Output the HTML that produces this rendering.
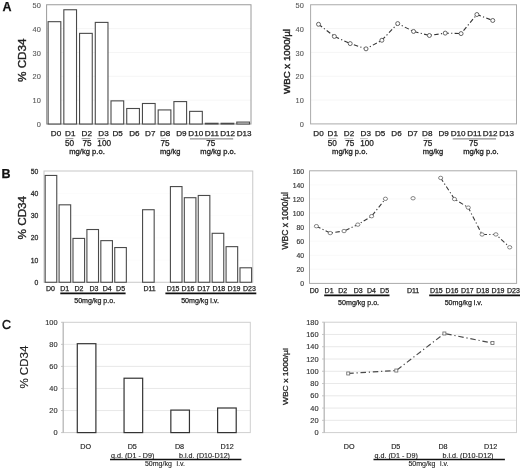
<!DOCTYPE html><html><head><meta charset="utf-8"><style>html,body{margin:0;padding:0;background:#fff;width:520px;height:472px;overflow:hidden}svg{display:block;font-family:"Liberation Sans",sans-serif;will-change:transform}</style></head><body>
<svg width="520" height="472" viewBox="0 0 520 472">
<rect width="520" height="472" fill="#fff"/>
<text x="2.50" y="11.20" font-size="12.5" fill="#111" stroke="#111" stroke-width="0.25" text-anchor="start" font-weight="bold" >A</text>
<line x1="46.60" y1="100.15" x2="251.00" y2="100.15" stroke="#f3f3f3" stroke-width="0.8" />
<line x1="46.60" y1="76.30" x2="251.00" y2="76.30" stroke="#f3f3f3" stroke-width="0.8" />
<line x1="46.60" y1="52.45" x2="251.00" y2="52.45" stroke="#f3f3f3" stroke-width="0.8" />
<line x1="46.60" y1="28.60" x2="251.00" y2="28.60" stroke="#f3f3f3" stroke-width="0.8" />
<rect x="46.60" y="4.75" width="204.40" height="119.25" fill="none" stroke="#9a9a9a" stroke-width="1"/>
<text x="40.80" y="127.10" font-size="7.4" fill="#5a5a5a" stroke="#5a5a5a" stroke-width="0.12" text-anchor="end" font-weight="normal" >0</text>
<text x="40.80" y="103.25" font-size="7.4" fill="#5a5a5a" stroke="#5a5a5a" stroke-width="0.12" text-anchor="end" font-weight="normal" >10</text>
<text x="40.80" y="79.40" font-size="7.4" fill="#5a5a5a" stroke="#5a5a5a" stroke-width="0.12" text-anchor="end" font-weight="normal" >20</text>
<text x="40.80" y="55.55" font-size="7.4" fill="#5a5a5a" stroke="#5a5a5a" stroke-width="0.12" text-anchor="end" font-weight="normal" >30</text>
<text x="40.80" y="31.70" font-size="7.4" fill="#5a5a5a" stroke="#5a5a5a" stroke-width="0.12" text-anchor="end" font-weight="normal" >40</text>
<text x="40.80" y="7.85" font-size="7.4" fill="#5a5a5a" stroke="#5a5a5a" stroke-width="0.12" text-anchor="end" font-weight="normal" >50</text>
<rect x="48.11" y="21.68" width="12.70" height="102.32" fill="#fff" stroke="#4a4a4a" stroke-width="1.1"/>
<rect x="63.83" y="9.76" width="12.70" height="114.24" fill="#fff" stroke="#4a4a4a" stroke-width="1.1"/>
<rect x="79.56" y="33.37" width="12.70" height="90.63" fill="#fff" stroke="#4a4a4a" stroke-width="1.1"/>
<rect x="95.28" y="22.40" width="12.70" height="101.60" fill="#fff" stroke="#4a4a4a" stroke-width="1.1"/>
<rect x="111.00" y="100.87" width="12.70" height="23.13" fill="#fff" stroke="#4a4a4a" stroke-width="1.1"/>
<rect x="126.73" y="108.50" width="12.70" height="15.50" fill="#fff" stroke="#4a4a4a" stroke-width="1.1"/>
<rect x="142.45" y="103.49" width="12.70" height="20.51" fill="#fff" stroke="#4a4a4a" stroke-width="1.1"/>
<rect x="158.17" y="109.93" width="12.70" height="14.07" fill="#fff" stroke="#4a4a4a" stroke-width="1.1"/>
<rect x="173.90" y="101.58" width="12.70" height="22.42" fill="#fff" stroke="#4a4a4a" stroke-width="1.1"/>
<rect x="189.62" y="111.36" width="12.70" height="12.64" fill="#fff" stroke="#4a4a4a" stroke-width="1.1"/>
<rect x="205.34" y="123.28" width="12.70" height="0.72" fill="#fff" stroke="#4a4a4a" stroke-width="1.1"/>
<rect x="221.07" y="123.28" width="12.70" height="0.72" fill="#fff" stroke="#4a4a4a" stroke-width="1.1"/>
<rect x="236.79" y="122.09" width="12.70" height="1.91" fill="#fff" stroke="#4a4a4a" stroke-width="1.1"/>
<text x="-21.75" y="0" font-size="10.6" fill="#222" stroke="#222" stroke-width="0.35" text-anchor="start" font-weight="normal" transform="translate(25.67,60.20) rotate(-90)" textLength="43.5" lengthAdjust="spacingAndGlyphs">% CD34</text>
<text x="56.00" y="135.60" font-size="8.1" fill="#222" stroke="#222" stroke-width="0.25" text-anchor="middle" font-weight="normal" >D0</text>
<text x="70.30" y="135.60" font-size="8.1" fill="#222" stroke="#222" stroke-width="0.25" text-anchor="middle" font-weight="normal" >D1</text>
<text x="86.80" y="135.60" font-size="8.1" fill="#222" stroke="#222" stroke-width="0.25" text-anchor="middle" font-weight="normal" >D2</text>
<text x="103.50" y="135.60" font-size="8.1" fill="#222" stroke="#222" stroke-width="0.25" text-anchor="middle" font-weight="normal" >D3</text>
<text x="117.60" y="135.60" font-size="8.1" fill="#222" stroke="#222" stroke-width="0.25" text-anchor="middle" font-weight="normal" >D5</text>
<text x="134.40" y="135.60" font-size="8.1" fill="#222" stroke="#222" stroke-width="0.25" text-anchor="middle" font-weight="normal" >D6</text>
<text x="150.30" y="135.60" font-size="8.1" fill="#222" stroke="#222" stroke-width="0.25" text-anchor="middle" font-weight="normal" >D7</text>
<text x="165.20" y="135.60" font-size="8.1" fill="#222" stroke="#222" stroke-width="0.25" text-anchor="middle" font-weight="normal" >D8</text>
<text x="181.40" y="135.60" font-size="8.1" fill="#222" stroke="#222" stroke-width="0.25" text-anchor="middle" font-weight="normal" >D9</text>
<text x="195.80" y="135.60" font-size="8.1" fill="#222" stroke="#222" stroke-width="0.25" text-anchor="middle" font-weight="normal" >D10</text>
<text x="211.80" y="135.60" font-size="8.1" fill="#222" stroke="#222" stroke-width="0.25" text-anchor="middle" font-weight="normal" >D11</text>
<text x="227.70" y="135.60" font-size="8.1" fill="#222" stroke="#222" stroke-width="0.25" text-anchor="middle" font-weight="normal" >D12</text>
<text x="244.20" y="135.60" font-size="8.1" fill="#222" stroke="#222" stroke-width="0.25" text-anchor="middle" font-weight="normal" >D13</text>
<text x="69.50" y="145.70" font-size="8.2" fill="#222" stroke="#222" stroke-width="0.25" text-anchor="middle" font-weight="normal" >50</text>
<line x1="65.60" y1="138.60" x2="73.40" y2="138.60" stroke="#999" stroke-width="1.1" />
<text x="87.00" y="145.70" font-size="8.2" fill="#222" stroke="#222" stroke-width="0.25" text-anchor="middle" font-weight="normal" >75</text>
<line x1="81.60" y1="138.60" x2="90.20" y2="138.60" stroke="#999" stroke-width="1.1" />
<text x="104.20" y="145.70" font-size="8.2" fill="#222" stroke="#222" stroke-width="0.25" text-anchor="middle" font-weight="normal" >100</text>
<line x1="97.20" y1="138.60" x2="105.00" y2="138.60" stroke="#999" stroke-width="1.1" />
<text x="165.00" y="145.70" font-size="8.2" fill="#222" stroke="#222" stroke-width="0.25" text-anchor="middle" font-weight="normal" >75</text>
<line x1="161.00" y1="138.40" x2="166.00" y2="138.40" stroke="#ccc" stroke-width="0.8" />
<text x="210.80" y="145.70" font-size="8.2" fill="#222" stroke="#222" stroke-width="0.25" text-anchor="middle" font-weight="normal" >75</text>
<line x1="189.90" y1="138.90" x2="233.20" y2="138.90" stroke="#777" stroke-width="1.0" />
<text x="87.00" y="153.50" font-size="7.4" fill="#222" stroke="#222" stroke-width="0.3" text-anchor="middle" font-weight="normal"  textLength="35.5" lengthAdjust="spacingAndGlyphs">mg/kg p.o.</text>
<text x="170.20" y="153.50" font-size="7.4" fill="#222" stroke="#222" stroke-width="0.3" text-anchor="middle" font-weight="normal"  textLength="20.5" lengthAdjust="spacingAndGlyphs">mg/kg</text>
<text x="218.10" y="153.50" font-size="7.4" fill="#222" stroke="#222" stroke-width="0.3" text-anchor="middle" font-weight="normal"  textLength="35.5" lengthAdjust="spacingAndGlyphs">mg/kg p.o.</text>
<line x1="310.60" y1="100.07" x2="516.50" y2="100.07" stroke="#f3f3f3" stroke-width="0.8" />
<line x1="310.60" y1="76.24" x2="516.50" y2="76.24" stroke="#f3f3f3" stroke-width="0.8" />
<line x1="310.60" y1="52.41" x2="516.50" y2="52.41" stroke="#f3f3f3" stroke-width="0.8" />
<line x1="310.60" y1="28.58" x2="516.50" y2="28.58" stroke="#f3f3f3" stroke-width="0.8" />
<rect x="310.60" y="4.75" width="205.90" height="119.15" fill="none" stroke="#aaa" stroke-width="1"/>
<text x="303.80" y="127.00" font-size="7.4" fill="#5a5a5a" stroke="#5a5a5a" stroke-width="0.12" text-anchor="end" font-weight="normal" >0</text>
<text x="303.80" y="103.17" font-size="7.4" fill="#5a5a5a" stroke="#5a5a5a" stroke-width="0.12" text-anchor="end" font-weight="normal" >10</text>
<text x="303.80" y="79.34" font-size="7.4" fill="#5a5a5a" stroke="#5a5a5a" stroke-width="0.12" text-anchor="end" font-weight="normal" >20</text>
<text x="303.80" y="55.51" font-size="7.4" fill="#5a5a5a" stroke="#5a5a5a" stroke-width="0.12" text-anchor="end" font-weight="normal" >30</text>
<text x="303.80" y="31.68" font-size="7.4" fill="#5a5a5a" stroke="#5a5a5a" stroke-width="0.12" text-anchor="end" font-weight="normal" >40</text>
<text x="303.80" y="7.85" font-size="7.4" fill="#5a5a5a" stroke="#5a5a5a" stroke-width="0.12" text-anchor="end" font-weight="normal" >50</text>
<polyline points="318.52,24.29 334.36,36.44 350.20,43.59 366.03,48.84 381.87,40.26 397.71,23.58 413.55,31.44 429.39,35.49 445.23,33.11 461.07,33.58 476.90,14.52 492.74,20.48" fill="none" stroke="#333" stroke-width="1.1" stroke-dasharray="4.5,2.3,1.2,2.3"/>
<ellipse cx="318.52" cy="24.29" rx="2.0" ry="2.0" fill="#fff" stroke="#555" stroke-width="0.9"/>
<ellipse cx="334.36" cy="36.44" rx="2.0" ry="2.0" fill="#fff" stroke="#555" stroke-width="0.9"/>
<ellipse cx="350.20" cy="43.59" rx="2.0" ry="2.0" fill="#fff" stroke="#555" stroke-width="0.9"/>
<ellipse cx="366.03" cy="48.84" rx="2.0" ry="2.0" fill="#fff" stroke="#555" stroke-width="0.9"/>
<ellipse cx="381.87" cy="40.26" rx="2.0" ry="2.0" fill="#fff" stroke="#555" stroke-width="0.9"/>
<ellipse cx="397.71" cy="23.58" rx="2.0" ry="2.0" fill="#fff" stroke="#555" stroke-width="0.9"/>
<ellipse cx="413.55" cy="31.44" rx="2.0" ry="2.0" fill="#fff" stroke="#555" stroke-width="0.9"/>
<ellipse cx="429.39" cy="35.49" rx="2.0" ry="2.0" fill="#fff" stroke="#555" stroke-width="0.9"/>
<ellipse cx="445.23" cy="33.11" rx="2.0" ry="2.0" fill="#fff" stroke="#555" stroke-width="0.9"/>
<ellipse cx="461.07" cy="33.58" rx="2.0" ry="2.0" fill="#fff" stroke="#555" stroke-width="0.9"/>
<ellipse cx="476.90" cy="14.52" rx="2.0" ry="2.0" fill="#fff" stroke="#555" stroke-width="0.9"/>
<ellipse cx="492.74" cy="20.48" rx="2.0" ry="2.0" fill="#fff" stroke="#555" stroke-width="0.9"/>
<text x="-32.50" y="0" font-size="8.6" fill="#222" stroke="#222" stroke-width="0.4" text-anchor="start" font-weight="normal" transform="translate(289.60,61.50) rotate(-90)" textLength="65.0" lengthAdjust="spacingAndGlyphs">WBC x 1000/µl</text>
<text x="318.50" y="135.60" font-size="8.1" fill="#222" stroke="#222" stroke-width="0.25" text-anchor="middle" font-weight="normal" >D0</text>
<text x="332.80" y="135.60" font-size="8.1" fill="#222" stroke="#222" stroke-width="0.25" text-anchor="middle" font-weight="normal" >D1</text>
<text x="349.00" y="135.60" font-size="8.1" fill="#222" stroke="#222" stroke-width="0.25" text-anchor="middle" font-weight="normal" >D2</text>
<text x="365.80" y="135.60" font-size="8.1" fill="#222" stroke="#222" stroke-width="0.25" text-anchor="middle" font-weight="normal" >D3</text>
<text x="380.20" y="135.60" font-size="8.1" fill="#222" stroke="#222" stroke-width="0.25" text-anchor="middle" font-weight="normal" >D5</text>
<text x="396.50" y="135.60" font-size="8.1" fill="#222" stroke="#222" stroke-width="0.25" text-anchor="middle" font-weight="normal" >D6</text>
<text x="412.70" y="135.60" font-size="8.1" fill="#222" stroke="#222" stroke-width="0.25" text-anchor="middle" font-weight="normal" >D7</text>
<text x="427.30" y="135.60" font-size="8.1" fill="#222" stroke="#222" stroke-width="0.25" text-anchor="middle" font-weight="normal" >D8</text>
<text x="443.60" y="135.60" font-size="8.1" fill="#222" stroke="#222" stroke-width="0.25" text-anchor="middle" font-weight="normal" >D9</text>
<text x="458.20" y="135.60" font-size="8.1" fill="#222" stroke="#222" stroke-width="0.25" text-anchor="middle" font-weight="normal" >D10</text>
<text x="474.30" y="135.60" font-size="8.1" fill="#222" stroke="#222" stroke-width="0.25" text-anchor="middle" font-weight="normal" >D11</text>
<text x="490.10" y="135.60" font-size="8.1" fill="#222" stroke="#222" stroke-width="0.25" text-anchor="middle" font-weight="normal" >D12</text>
<text x="506.60" y="135.60" font-size="8.1" fill="#222" stroke="#222" stroke-width="0.25" text-anchor="middle" font-weight="normal" >D13</text>
<text x="332.30" y="145.70" font-size="8.2" fill="#222" stroke="#222" stroke-width="0.25" text-anchor="middle" font-weight="normal" >50</text>
<line x1="328.40" y1="138.60" x2="336.20" y2="138.60" stroke="#c4c4c4" stroke-width="1.1" />
<text x="349.80" y="145.70" font-size="8.2" fill="#222" stroke="#222" stroke-width="0.25" text-anchor="middle" font-weight="normal" >75</text>
<line x1="344.40" y1="138.60" x2="353.00" y2="138.60" stroke="#c4c4c4" stroke-width="1.1" />
<text x="367.00" y="145.70" font-size="8.2" fill="#222" stroke="#222" stroke-width="0.25" text-anchor="middle" font-weight="normal" >100</text>
<line x1="360.00" y1="138.60" x2="367.80" y2="138.60" stroke="#c4c4c4" stroke-width="1.1" />
<text x="427.80" y="145.70" font-size="8.2" fill="#222" stroke="#222" stroke-width="0.25" text-anchor="middle" font-weight="normal" >75</text>
<line x1="423.80" y1="138.40" x2="428.80" y2="138.40" stroke="#ccc" stroke-width="0.8" />
<text x="473.60" y="145.70" font-size="8.2" fill="#222" stroke="#222" stroke-width="0.25" text-anchor="middle" font-weight="normal" >75</text>
<line x1="452.70" y1="138.90" x2="496.00" y2="138.90" stroke="#777" stroke-width="1.0" />
<text x="349.80" y="153.50" font-size="7.4" fill="#222" stroke="#222" stroke-width="0.3" text-anchor="middle" font-weight="normal"  textLength="35.5" lengthAdjust="spacingAndGlyphs">mg/kg p.o.</text>
<text x="433.00" y="153.50" font-size="7.4" fill="#222" stroke="#222" stroke-width="0.3" text-anchor="middle" font-weight="normal"  textLength="20.5" lengthAdjust="spacingAndGlyphs">mg/kg</text>
<text x="480.90" y="153.50" font-size="7.4" fill="#222" stroke="#222" stroke-width="0.3" text-anchor="middle" font-weight="normal"  textLength="35.5" lengthAdjust="spacingAndGlyphs">mg/kg p.o.</text>
<text x="1.50" y="178.20" font-size="12.5" fill="#111" stroke="#111" stroke-width="0.25" text-anchor="start" font-weight="bold" >B</text>
<line x1="44.00" y1="260.00" x2="252.75" y2="260.00" stroke="#fbfbfb" stroke-width="0.8" />
<line x1="44.00" y1="237.75" x2="252.75" y2="237.75" stroke="#fbfbfb" stroke-width="0.8" />
<line x1="44.00" y1="215.50" x2="252.75" y2="215.50" stroke="#fbfbfb" stroke-width="0.8" />
<line x1="44.00" y1="193.25" x2="252.75" y2="193.25" stroke="#fbfbfb" stroke-width="0.8" />
<rect x="44.00" y="171.00" width="208.75" height="111.25" fill="none" stroke="#c8c8c8" stroke-width="1"/>
<text x="38.30" y="284.75" font-size="6.8" fill="#333" stroke="#333" stroke-width="0.3" text-anchor="end" font-weight="normal" >0</text>
<text x="38.30" y="262.50" font-size="6.8" fill="#333" stroke="#333" stroke-width="0.3" text-anchor="end" font-weight="normal" >10</text>
<text x="38.30" y="240.25" font-size="6.8" fill="#333" stroke="#333" stroke-width="0.3" text-anchor="end" font-weight="normal" >20</text>
<text x="38.30" y="218.00" font-size="6.8" fill="#333" stroke="#333" stroke-width="0.3" text-anchor="end" font-weight="normal" >30</text>
<text x="38.30" y="195.75" font-size="6.8" fill="#333" stroke="#333" stroke-width="0.3" text-anchor="end" font-weight="normal" >40</text>
<text x="38.30" y="173.50" font-size="6.8" fill="#333" stroke="#333" stroke-width="0.3" text-anchor="end" font-weight="normal" >50</text>
<rect x="45.16" y="175.45" width="11.60" height="106.80" fill="#fff" stroke="#4a4a4a" stroke-width="1.1"/>
<rect x="59.08" y="204.82" width="11.60" height="77.43" fill="#fff" stroke="#4a4a4a" stroke-width="1.1"/>
<rect x="72.99" y="238.42" width="11.60" height="43.83" fill="#fff" stroke="#4a4a4a" stroke-width="1.1"/>
<rect x="86.91" y="229.52" width="11.60" height="52.73" fill="#fff" stroke="#4a4a4a" stroke-width="1.1"/>
<rect x="100.83" y="240.64" width="11.60" height="41.61" fill="#fff" stroke="#4a4a4a" stroke-width="1.1"/>
<rect x="114.74" y="247.54" width="11.60" height="34.71" fill="#fff" stroke="#4a4a4a" stroke-width="1.1"/>
<rect x="142.57" y="209.72" width="11.60" height="72.53" fill="#fff" stroke="#4a4a4a" stroke-width="1.1"/>
<rect x="170.41" y="186.57" width="11.60" height="95.67" fill="#fff" stroke="#4a4a4a" stroke-width="1.1"/>
<rect x="184.32" y="197.70" width="11.60" height="84.55" fill="#fff" stroke="#4a4a4a" stroke-width="1.1"/>
<rect x="198.24" y="195.47" width="11.60" height="86.78" fill="#fff" stroke="#4a4a4a" stroke-width="1.1"/>
<rect x="212.16" y="233.30" width="11.60" height="48.95" fill="#fff" stroke="#4a4a4a" stroke-width="1.1"/>
<rect x="226.07" y="246.65" width="11.60" height="35.60" fill="#fff" stroke="#4a4a4a" stroke-width="1.1"/>
<rect x="239.99" y="267.79" width="11.60" height="14.46" fill="#fff" stroke="#4a4a4a" stroke-width="1.1"/>
<text x="-21.75" y="0" font-size="10.8" fill="#222" stroke="#222" stroke-width="0.35" text-anchor="start" font-weight="normal" transform="translate(25.54,217.65) rotate(-90)" textLength="43.5" lengthAdjust="spacingAndGlyphs">% CD34</text>
<text x="50.50" y="290.90" font-size="7.0" fill="#222" stroke="#222" stroke-width="0.25" text-anchor="middle" font-weight="normal" >D0</text>
<text x="64.80" y="290.90" font-size="7.0" fill="#222" stroke="#222" stroke-width="0.25" text-anchor="middle" font-weight="normal" >D1</text>
<text x="79.00" y="290.90" font-size="7.0" fill="#222" stroke="#222" stroke-width="0.25" text-anchor="middle" font-weight="normal" >D2</text>
<text x="93.90" y="290.90" font-size="7.0" fill="#222" stroke="#222" stroke-width="0.25" text-anchor="middle" font-weight="normal" >D3</text>
<text x="107.20" y="290.90" font-size="7.0" fill="#222" stroke="#222" stroke-width="0.25" text-anchor="middle" font-weight="normal" >D4</text>
<text x="120.60" y="290.90" font-size="7.0" fill="#222" stroke="#222" stroke-width="0.25" text-anchor="middle" font-weight="normal" >D5</text>
<text x="149.60" y="290.90" font-size="7.0" fill="#222" stroke="#222" stroke-width="0.25" text-anchor="middle" font-weight="normal" >D11</text>
<text x="173.10" y="290.90" font-size="7.0" fill="#222" stroke="#222" stroke-width="0.25" text-anchor="middle" font-weight="normal" >D15</text>
<text x="188.00" y="290.90" font-size="7.0" fill="#222" stroke="#222" stroke-width="0.25" text-anchor="middle" font-weight="normal" >D16</text>
<text x="203.60" y="290.90" font-size="7.0" fill="#222" stroke="#222" stroke-width="0.25" text-anchor="middle" font-weight="normal" >D17</text>
<text x="218.80" y="290.90" font-size="7.0" fill="#222" stroke="#222" stroke-width="0.25" text-anchor="middle" font-weight="normal" >D18</text>
<text x="234.00" y="290.90" font-size="7.0" fill="#222" stroke="#222" stroke-width="0.25" text-anchor="middle" font-weight="normal" >D19</text>
<text x="249.40" y="290.90" font-size="7.0" fill="#222" stroke="#222" stroke-width="0.25" text-anchor="middle" font-weight="normal" >D23</text>
<line x1="60.30" y1="293.40" x2="125.60" y2="293.40" stroke="#111" stroke-width="1.6" />
<line x1="165.40" y1="293.40" x2="256.30" y2="293.40" stroke="#111" stroke-width="1.6" />
<text x="94.70" y="302.80" font-size="7.1" fill="#222" stroke="#222" stroke-width="0.25" text-anchor="middle" font-weight="normal" >50mg/kg p.o.</text>
<text x="200.00" y="302.80" font-size="7.1" fill="#222" stroke="#222" stroke-width="0.25" text-anchor="middle" font-weight="normal" >50mg/kg i.v.</text>
<line x1="309.50" y1="269.32" x2="516.60" y2="269.32" stroke="#f7f7f7" stroke-width="0.8" />
<line x1="309.50" y1="255.25" x2="516.60" y2="255.25" stroke="#f7f7f7" stroke-width="0.8" />
<line x1="309.50" y1="241.17" x2="516.60" y2="241.17" stroke="#f7f7f7" stroke-width="0.8" />
<line x1="309.50" y1="227.10" x2="516.60" y2="227.10" stroke="#f7f7f7" stroke-width="0.8" />
<line x1="309.50" y1="213.03" x2="516.60" y2="213.03" stroke="#f7f7f7" stroke-width="0.8" />
<line x1="309.50" y1="198.95" x2="516.60" y2="198.95" stroke="#f7f7f7" stroke-width="0.8" />
<line x1="309.50" y1="184.88" x2="516.60" y2="184.88" stroke="#f7f7f7" stroke-width="0.8" />
<rect x="309.50" y="170.80" width="207.10" height="112.60" fill="none" stroke="#aaa" stroke-width="1"/>
<text x="304.00" y="286.30" font-size="6.8" fill="#3a3a3a" stroke="#3a3a3a" stroke-width="0.18" text-anchor="end" font-weight="normal" >0</text>
<text x="304.00" y="272.22" font-size="6.8" fill="#3a3a3a" stroke="#3a3a3a" stroke-width="0.18" text-anchor="end" font-weight="normal" >20</text>
<text x="304.00" y="258.15" font-size="6.8" fill="#3a3a3a" stroke="#3a3a3a" stroke-width="0.18" text-anchor="end" font-weight="normal" >40</text>
<text x="304.00" y="244.07" font-size="6.8" fill="#3a3a3a" stroke="#3a3a3a" stroke-width="0.18" text-anchor="end" font-weight="normal" >60</text>
<text x="304.00" y="230.00" font-size="6.8" fill="#3a3a3a" stroke="#3a3a3a" stroke-width="0.18" text-anchor="end" font-weight="normal" >80</text>
<text x="304.00" y="215.93" font-size="6.8" fill="#3a3a3a" stroke="#3a3a3a" stroke-width="0.18" text-anchor="end" font-weight="normal" >100</text>
<text x="304.00" y="201.85" font-size="6.8" fill="#3a3a3a" stroke="#3a3a3a" stroke-width="0.18" text-anchor="end" font-weight="normal" >120</text>
<text x="304.00" y="187.78" font-size="6.8" fill="#3a3a3a" stroke="#3a3a3a" stroke-width="0.18" text-anchor="end" font-weight="normal" >140</text>
<text x="304.00" y="173.70" font-size="6.8" fill="#3a3a3a" stroke="#3a3a3a" stroke-width="0.18" text-anchor="end" font-weight="normal" >160</text>
<polyline points="316.40,226.19 330.21,233.08 344.02,231.04 357.82,224.64 371.63,216.19 385.44,198.81" fill="none" stroke="#3a3a3a" stroke-width="1.1" stroke-dasharray="4.5,2.3,1.2,2.3"/>
<polyline points="440.66,177.91 454.47,199.09 468.28,207.61 482.08,234.49 495.89,234.42 509.70,247.30" fill="none" stroke="#3a3a3a" stroke-width="1.1" stroke-dasharray="4.5,2.3,1.2,2.3"/>
<ellipse cx="316.40" cy="226.19" rx="2.1" ry="1.7" fill="#fff" stroke="#666" stroke-width="0.8"/>
<ellipse cx="330.21" cy="233.08" rx="2.1" ry="1.7" fill="#fff" stroke="#666" stroke-width="0.8"/>
<ellipse cx="344.02" cy="231.04" rx="2.1" ry="1.7" fill="#fff" stroke="#666" stroke-width="0.8"/>
<ellipse cx="357.82" cy="224.64" rx="2.1" ry="1.7" fill="#fff" stroke="#666" stroke-width="0.8"/>
<ellipse cx="371.63" cy="216.19" rx="2.1" ry="1.7" fill="#fff" stroke="#666" stroke-width="0.8"/>
<ellipse cx="385.44" cy="198.81" rx="2.1" ry="1.7" fill="#fff" stroke="#666" stroke-width="0.8"/>
<ellipse cx="413.05" cy="198.25" rx="2.1" ry="1.7" fill="#fff" stroke="#666" stroke-width="0.8"/>
<ellipse cx="440.66" cy="177.91" rx="2.1" ry="1.7" fill="#fff" stroke="#666" stroke-width="0.8"/>
<ellipse cx="454.47" cy="199.09" rx="2.1" ry="1.7" fill="#fff" stroke="#666" stroke-width="0.8"/>
<ellipse cx="468.28" cy="207.61" rx="2.1" ry="1.7" fill="#fff" stroke="#666" stroke-width="0.8"/>
<ellipse cx="482.08" cy="234.49" rx="2.1" ry="1.7" fill="#fff" stroke="#666" stroke-width="0.8"/>
<ellipse cx="495.89" cy="234.42" rx="2.1" ry="1.7" fill="#fff" stroke="#666" stroke-width="0.8"/>
<ellipse cx="509.70" cy="247.30" rx="2.1" ry="1.7" fill="#fff" stroke="#666" stroke-width="0.8"/>
<text x="-28.75" y="0" font-size="8.2" fill="#222" stroke="#222" stroke-width="0.3" text-anchor="start" font-weight="normal" transform="translate(288.35,220.85) rotate(-90)" textLength="57.5" lengthAdjust="spacingAndGlyphs">WBC x 1000/µl</text>
<text x="314.20" y="292.70" font-size="7.0" fill="#222" stroke="#222" stroke-width="0.25" text-anchor="middle" font-weight="normal" >D0</text>
<text x="329.10" y="292.70" font-size="7.0" fill="#222" stroke="#222" stroke-width="0.25" text-anchor="middle" font-weight="normal" >D1</text>
<text x="342.70" y="292.70" font-size="7.0" fill="#222" stroke="#222" stroke-width="0.25" text-anchor="middle" font-weight="normal" >D2</text>
<text x="358.30" y="292.70" font-size="7.0" fill="#222" stroke="#222" stroke-width="0.25" text-anchor="middle" font-weight="normal" >D3</text>
<text x="371.50" y="292.70" font-size="7.0" fill="#222" stroke="#222" stroke-width="0.25" text-anchor="middle" font-weight="normal" >D4</text>
<text x="384.60" y="292.70" font-size="7.0" fill="#222" stroke="#222" stroke-width="0.25" text-anchor="middle" font-weight="normal" >D5</text>
<text x="413.10" y="292.70" font-size="7.0" fill="#222" stroke="#222" stroke-width="0.25" text-anchor="middle" font-weight="normal" >D11</text>
<text x="436.30" y="292.70" font-size="7.0" fill="#222" stroke="#222" stroke-width="0.25" text-anchor="middle" font-weight="normal" >D15</text>
<text x="452.00" y="292.70" font-size="7.0" fill="#222" stroke="#222" stroke-width="0.25" text-anchor="middle" font-weight="normal" >D16</text>
<text x="467.30" y="292.70" font-size="7.0" fill="#222" stroke="#222" stroke-width="0.25" text-anchor="middle" font-weight="normal" >D17</text>
<text x="482.70" y="292.70" font-size="7.0" fill="#222" stroke="#222" stroke-width="0.25" text-anchor="middle" font-weight="normal" >D18</text>
<text x="498.00" y="292.70" font-size="7.0" fill="#222" stroke="#222" stroke-width="0.25" text-anchor="middle" font-weight="normal" >D19</text>
<text x="513.40" y="292.70" font-size="7.0" fill="#222" stroke="#222" stroke-width="0.25" text-anchor="middle" font-weight="normal" >D23</text>
<line x1="324.20" y1="295.40" x2="389.50" y2="295.40" stroke="#111" stroke-width="1.6" />
<line x1="429.20" y1="295.40" x2="521.00" y2="295.40" stroke="#111" stroke-width="1.6" />
<text x="358.60" y="304.50" font-size="7.1" fill="#222" stroke="#222" stroke-width="0.25" text-anchor="middle" font-weight="normal" >50mg/kg p.o.</text>
<text x="463.50" y="304.50" font-size="7.1" fill="#222" stroke="#222" stroke-width="0.25" text-anchor="middle" font-weight="normal" >50mg/kg i.v.</text>
<text x="2.00" y="329.40" font-size="12.5" fill="#111" stroke="#111" stroke-width="0.4" text-anchor="start" font-weight="normal" >C</text>
<line x1="63.20" y1="410.54" x2="250.30" y2="410.54" stroke="#e2e2e2" stroke-width="0.8" />
<line x1="63.20" y1="388.48" x2="250.30" y2="388.48" stroke="#e2e2e2" stroke-width="0.8" />
<line x1="63.20" y1="366.42" x2="250.30" y2="366.42" stroke="#e2e2e2" stroke-width="0.8" />
<line x1="63.20" y1="344.36" x2="250.30" y2="344.36" stroke="#e2e2e2" stroke-width="0.8" />
<rect x="63.20" y="322.30" width="187.10" height="110.30" fill="none" stroke="#cfcfcf" stroke-width="1"/>
<line x1="63.20" y1="322.30" x2="63.20" y2="432.60" stroke="#b4b4b4" stroke-width="1" />
<line x1="61.00" y1="432.60" x2="63.20" y2="432.60" stroke="#bbb" stroke-width="0.8" />
<line x1="61.00" y1="410.54" x2="63.20" y2="410.54" stroke="#bbb" stroke-width="0.8" />
<line x1="61.00" y1="388.48" x2="63.20" y2="388.48" stroke="#bbb" stroke-width="0.8" />
<line x1="61.00" y1="366.42" x2="63.20" y2="366.42" stroke="#bbb" stroke-width="0.8" />
<line x1="61.00" y1="344.36" x2="63.20" y2="344.36" stroke="#bbb" stroke-width="0.8" />
<line x1="61.00" y1="322.30" x2="63.20" y2="322.30" stroke="#bbb" stroke-width="0.8" />
<text x="57.60" y="435.20" font-size="7.4" fill="#333" stroke="#333" stroke-width="0.15" text-anchor="end" font-weight="normal" >0</text>
<text x="57.60" y="413.14" font-size="7.4" fill="#333" stroke="#333" stroke-width="0.15" text-anchor="end" font-weight="normal" >20</text>
<text x="57.60" y="391.08" font-size="7.4" fill="#333" stroke="#333" stroke-width="0.15" text-anchor="end" font-weight="normal" >40</text>
<text x="57.60" y="369.02" font-size="7.4" fill="#333" stroke="#333" stroke-width="0.15" text-anchor="end" font-weight="normal" >60</text>
<text x="57.60" y="346.96" font-size="7.4" fill="#333" stroke="#333" stroke-width="0.15" text-anchor="end" font-weight="normal" >80</text>
<text x="57.60" y="324.90" font-size="7.4" fill="#333" stroke="#333" stroke-width="0.15" text-anchor="end" font-weight="normal" >100</text>
<rect x="77.29" y="343.70" width="18.60" height="88.90" fill="#fff" stroke="#333" stroke-width="1.2"/>
<rect x="124.06" y="378.22" width="18.60" height="54.38" fill="#fff" stroke="#333" stroke-width="1.2"/>
<rect x="170.84" y="410.10" width="18.60" height="22.50" fill="#fff" stroke="#333" stroke-width="1.2"/>
<rect x="217.61" y="408.00" width="18.60" height="24.60" fill="#fff" stroke="#333" stroke-width="1.2"/>
<text x="-21.50" y="0" font-size="10.8" fill="#222" stroke="#222" stroke-width="0.15" text-anchor="start" font-weight="normal" transform="translate(27.54,367.10) rotate(-90)" textLength="43.0" lengthAdjust="spacingAndGlyphs">% CD34</text>
<text x="85.70" y="448.80" font-size="7.2" fill="#222" stroke="#222" stroke-width="0.15" text-anchor="middle" font-weight="normal" >DO</text>
<text x="132.25" y="448.80" font-size="7.2" fill="#222" stroke="#222" stroke-width="0.15" text-anchor="middle" font-weight="normal" >D5</text>
<text x="179.50" y="448.80" font-size="7.2" fill="#222" stroke="#222" stroke-width="0.15" text-anchor="middle" font-weight="normal" >D8</text>
<text x="227.10" y="448.80" font-size="7.2" fill="#222" stroke="#222" stroke-width="0.15" text-anchor="middle" font-weight="normal" >D12</text>
<text x="132.70" y="457.80" font-size="7.0" fill="#222" stroke="#222" stroke-width="0.12" text-anchor="middle" font-weight="normal"  textLength="43.5" lengthAdjust="spacingAndGlyphs">q.d. (D1 - D9)</text>
<text x="204.50" y="457.80" font-size="7.0" fill="#222" stroke="#222" stroke-width="0.12" text-anchor="middle" font-weight="normal"  textLength="51.0" lengthAdjust="spacingAndGlyphs">b.i.d. (D10-D12)</text>
<line x1="110.00" y1="459.40" x2="241.40" y2="459.40" stroke="#111" stroke-width="1.5" />
<text x="144.90" y="465.90" font-size="7.0" fill="#222" stroke="#222" stroke-width="0.12" text-anchor="start" font-weight="normal"  textLength="27.0" lengthAdjust="spacingAndGlyphs">50mg/kg</text>
<text x="176.60" y="465.90" font-size="7.0" fill="#222" stroke="#222" stroke-width="0.12" text-anchor="start" font-weight="normal" >i.v.</text>
<line x1="324.20" y1="420.33" x2="516.50" y2="420.33" stroke="#e2e2e2" stroke-width="0.8" />
<line x1="324.20" y1="408.07" x2="516.50" y2="408.07" stroke="#e2e2e2" stroke-width="0.8" />
<line x1="324.20" y1="395.80" x2="516.50" y2="395.80" stroke="#e2e2e2" stroke-width="0.8" />
<line x1="324.20" y1="383.53" x2="516.50" y2="383.53" stroke="#e2e2e2" stroke-width="0.8" />
<line x1="324.20" y1="371.27" x2="516.50" y2="371.27" stroke="#e2e2e2" stroke-width="0.8" />
<line x1="324.20" y1="359.00" x2="516.50" y2="359.00" stroke="#e2e2e2" stroke-width="0.8" />
<line x1="324.20" y1="346.73" x2="516.50" y2="346.73" stroke="#e2e2e2" stroke-width="0.8" />
<line x1="324.20" y1="334.47" x2="516.50" y2="334.47" stroke="#e2e2e2" stroke-width="0.8" />
<rect x="324.20" y="322.20" width="192.30" height="110.40" fill="none" stroke="#cfcfcf" stroke-width="1"/>
<line x1="324.20" y1="322.20" x2="324.20" y2="432.60" stroke="#b4b4b4" stroke-width="1" />
<line x1="322.00" y1="432.60" x2="324.20" y2="432.60" stroke="#bbb" stroke-width="0.8" />
<line x1="322.00" y1="420.33" x2="324.20" y2="420.33" stroke="#bbb" stroke-width="0.8" />
<line x1="322.00" y1="408.07" x2="324.20" y2="408.07" stroke="#bbb" stroke-width="0.8" />
<line x1="322.00" y1="395.80" x2="324.20" y2="395.80" stroke="#bbb" stroke-width="0.8" />
<line x1="322.00" y1="383.53" x2="324.20" y2="383.53" stroke="#bbb" stroke-width="0.8" />
<line x1="322.00" y1="371.27" x2="324.20" y2="371.27" stroke="#bbb" stroke-width="0.8" />
<line x1="322.00" y1="359.00" x2="324.20" y2="359.00" stroke="#bbb" stroke-width="0.8" />
<line x1="322.00" y1="346.73" x2="324.20" y2="346.73" stroke="#bbb" stroke-width="0.8" />
<line x1="322.00" y1="334.47" x2="324.20" y2="334.47" stroke="#bbb" stroke-width="0.8" />
<line x1="322.00" y1="322.20" x2="324.20" y2="322.20" stroke="#bbb" stroke-width="0.8" />
<text x="318.60" y="435.20" font-size="7.4" fill="#333" stroke="#333" stroke-width="0.15" text-anchor="end" font-weight="normal" >0</text>
<text x="318.60" y="422.93" font-size="7.4" fill="#333" stroke="#333" stroke-width="0.15" text-anchor="end" font-weight="normal" >20</text>
<text x="318.60" y="410.67" font-size="7.4" fill="#333" stroke="#333" stroke-width="0.15" text-anchor="end" font-weight="normal" >40</text>
<text x="318.60" y="398.40" font-size="7.4" fill="#333" stroke="#333" stroke-width="0.15" text-anchor="end" font-weight="normal" >60</text>
<text x="318.60" y="386.13" font-size="7.4" fill="#333" stroke="#333" stroke-width="0.15" text-anchor="end" font-weight="normal" >80</text>
<text x="318.60" y="373.87" font-size="7.4" fill="#333" stroke="#333" stroke-width="0.15" text-anchor="end" font-weight="normal" >100</text>
<text x="318.60" y="361.60" font-size="7.4" fill="#333" stroke="#333" stroke-width="0.15" text-anchor="end" font-weight="normal" >120</text>
<text x="318.60" y="349.33" font-size="7.4" fill="#333" stroke="#333" stroke-width="0.15" text-anchor="end" font-weight="normal" >140</text>
<text x="318.60" y="337.07" font-size="7.4" fill="#333" stroke="#333" stroke-width="0.15" text-anchor="end" font-weight="normal" >160</text>
<text x="318.60" y="324.80" font-size="7.4" fill="#333" stroke="#333" stroke-width="0.15" text-anchor="end" font-weight="normal" >180</text>
<polyline points="348.24,373.47 396.31,370.53 444.39,333.49 492.46,343.05" fill="none" stroke="#4a4a4a" stroke-width="1.2" stroke-dasharray="5.5,2.8,1.2,2.8"/>
<rect x="346.74" y="371.97" width="3.0" height="3.0" fill="#fff" stroke="#666" stroke-width="0.8"/>
<rect x="394.81" y="369.03" width="3.0" height="3.0" fill="#fff" stroke="#666" stroke-width="0.8"/>
<rect x="442.89" y="331.99" width="3.0" height="3.0" fill="#fff" stroke="#666" stroke-width="0.8"/>
<rect x="490.96" y="341.55" width="3.0" height="3.0" fill="#fff" stroke="#666" stroke-width="0.8"/>
<text x="-28.50" y="0" font-size="8.1" fill="#222" stroke="#222" stroke-width="0.28" text-anchor="start" font-weight="normal" transform="translate(287.77,376.60) rotate(-90)" textLength="57.0" lengthAdjust="spacingAndGlyphs">WBC x 1000/µl</text>
<text x="349.20" y="448.80" font-size="7.2" fill="#222" stroke="#222" stroke-width="0.15" text-anchor="middle" font-weight="normal" >DO</text>
<text x="395.75" y="448.80" font-size="7.2" fill="#222" stroke="#222" stroke-width="0.15" text-anchor="middle" font-weight="normal" >D5</text>
<text x="443.00" y="448.80" font-size="7.2" fill="#222" stroke="#222" stroke-width="0.15" text-anchor="middle" font-weight="normal" >D8</text>
<text x="490.60" y="448.80" font-size="7.2" fill="#222" stroke="#222" stroke-width="0.15" text-anchor="middle" font-weight="normal" >D12</text>
<text x="396.20" y="457.80" font-size="7.0" fill="#222" stroke="#222" stroke-width="0.12" text-anchor="middle" font-weight="normal"  textLength="43.5" lengthAdjust="spacingAndGlyphs">q.d. (D1 - D9)</text>
<text x="468.00" y="457.80" font-size="7.0" fill="#222" stroke="#222" stroke-width="0.12" text-anchor="middle" font-weight="normal"  textLength="51.0" lengthAdjust="spacingAndGlyphs">b.i.d. (D10-D12)</text>
<line x1="373.50" y1="459.40" x2="504.90" y2="459.40" stroke="#111" stroke-width="1.5" />
<text x="408.40" y="465.90" font-size="7.0" fill="#222" stroke="#222" stroke-width="0.12" text-anchor="start" font-weight="normal"  textLength="27.0" lengthAdjust="spacingAndGlyphs">50mg/kg</text>
<text x="440.10" y="465.90" font-size="7.0" fill="#222" stroke="#222" stroke-width="0.12" text-anchor="start" font-weight="normal" >i.v.</text>
</svg></body></html>
